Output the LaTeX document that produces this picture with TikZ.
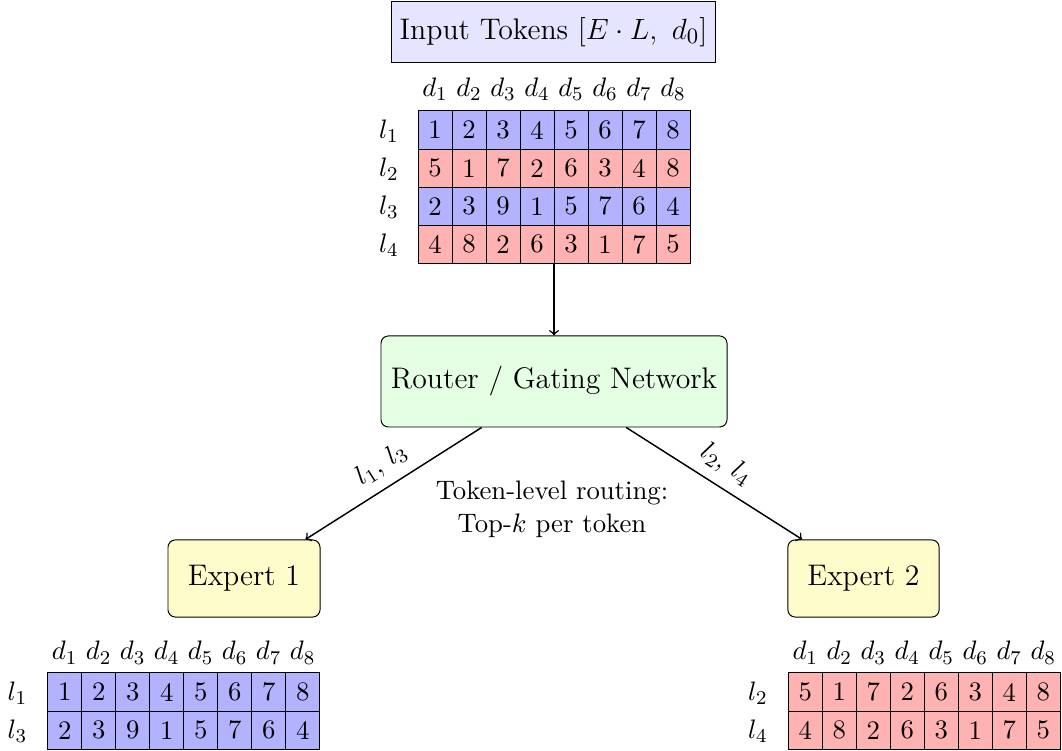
\documentclass[tikz,border=0pt,11pt]{standalone}
\usetikzlibrary{fit}
\begin{document}
\begin{tikzpicture}[x=0.4098pt,y=-0.4098pt,
  cell/.style={draw=black, line width=0.4pt, minimum width=13.93pt, minimum height=15.62pt, inner sep=0pt, anchor=center},
  bcell/.style={cell, fill=blue!30},
  rcell/.style={cell, fill=red!30},
  lab/.style={anchor=base, inner sep=0pt},
  box/.style={draw, inner sep=0pt, align=center, font=\fontsize{12.2}{15}\selectfont},
  conn/.style={->, semithick}]
\useasboundingbox (0,0) rectangle (1062,751);

% Input box
\node[box, fill=blue!10, minimum width=132.4pt, minimum height=24.6pt] (input) at (553.5,32) {Input Tokens $[E \cdot L,\ d_0]$};

% Top matrix
\foreach \c in {1,...,8} \node[lab] (td\c) at ({435+34*(\c-1)},97) {$d_{\c}$};
\node[lab] (tl1) at (389,138.5) {$l_1$};
\node[lab] (tl2) at (389,176.6) {$l_2$};
\node[lab] (tl3) at (389,214.7) {$l_3$};
\node[lab] (tl4) at (389,252.8) {$l_4$};
\foreach \v [count=\c] in {1,2,3,4,5,6,7,8} \node[bcell] (t-1-\c) at ({435+34*(\c-1)},130.05) {\v};
\foreach \v [count=\c] in {5,1,7,2,6,3,4,8} \node[rcell] (t-2-\c) at ({435+34*(\c-1)},168.15) {\v};
\foreach \v [count=\c] in {2,3,9,1,5,7,6,4} \node[bcell] (t-3-\c) at ({435+34*(\c-1)},206.25) {\v};
\foreach \v [count=\c] in {4,8,2,6,3,1,7,5} \node[rcell] (t-4-\c) at ({435+34*(\c-1)},244.35) {\v};
\node[fit=(t-1-1)(t-4-8), inner sep=0pt] (tm) {};

% Router
\node[box, fill=green!10, rounded corners=3pt, minimum width=141.8pt, minimum height=37.3pt] (router) at (554,381.5) {Router / Gating Network};
\draw[conn] (tm.south) -- (router.north);

% Experts
\node[box, fill=yellow!20, rounded corners=3pt, minimum width=62.3pt, minimum height=31.6pt] (e1) at (244,578.5) {Expert 1};
\node[box, fill=yellow!20, rounded corners=3pt, minimum width=62pt, minimum height=31.6pt] (e2) at (863.5,578.5) {Expert 2};
\draw[conn] (router) -- node[midway, above, sloped, inner sep=4pt] {$l_1$, $l_3$} (e1);
\draw[conn] (router) -- node[midway, above, sloped, inner sep=4pt] {$l_2$, $l_4$} (e2);

\node[align=center] (note) at (552,509) {Token-level routing:\\Top-$k$ per token};

% Bottom-left matrix
\foreach \c in {1,...,8} \node[lab] (ad\c) at ({64.7+34*(\c-1)},660) {$d_{\c}$};
\node[lab] (al1) at (17.5,700.5) {$l_1$};
\node[lab] (al3) at (17.5,738.5) {$l_3$};
\foreach \v [count=\c] in {1,2,3,4,5,6,7,8} \node[bcell] (a-1-\c) at ({64.7+34*(\c-1)},692.05) {\v};
\foreach \v [count=\c] in {2,3,9,1,5,7,6,4} \node[bcell] (a-2-\c) at ({64.7+34*(\c-1)},730.15) {\v};

% Bottom-right matrix
\foreach \c in {1,...,8} \node[lab] (bd\c) at ({805.3+34*(\c-1)},660) {$d_{\c}$};
\node[lab] (bl2) at (758,700.5) {$l_2$};
\node[lab] (bl4) at (758,738.5) {$l_4$};
\foreach \v [count=\c] in {5,1,7,2,6,3,4,8} \node[rcell] (b-1-\c) at ({805.3+34*(\c-1)},692.05) {\v};
\foreach \v [count=\c] in {4,8,2,6,3,1,7,5} \node[rcell] (b-2-\c) at ({805.3+34*(\c-1)},730.15) {\v};
\end{tikzpicture}
\end{document}
